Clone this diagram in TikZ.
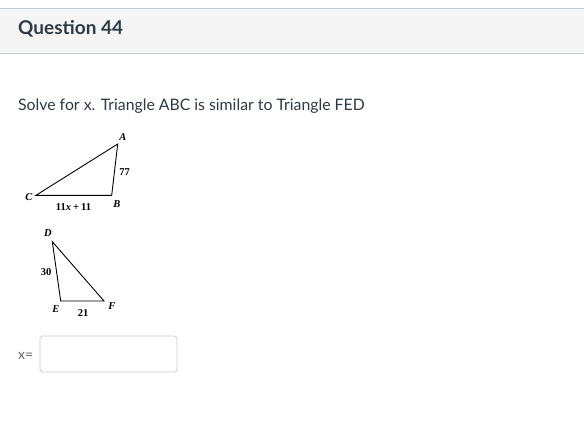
\documentclass[tikz,border=0pt]{standalone}
\usepackage{fontspec}
\setmainfont{Lato}
\newfontfamily\figfont{Liberation Serif}
\usepackage{xcolor}
\usetikzlibrary{positioning,calc}
\definecolor{headbg}{HTML}{F5F5F5}
\definecolor{headline}{HTML}{C7CDD1}
\definecolor{inktext}{HTML}{2D3B45}
\definecolor{boxline}{HTML}{C7CDD1}
\tikzset{
  vtx/.style={inner sep=0pt, font=\figfont\fontsize{10.5}{12}\selectfont\bfseries\itshape},
  side/.style={inner sep=0pt, font=\figfont\fontsize{10.5}{12}\selectfont\bfseries},
}
\begin{document}
\begin{tikzpicture}[x=1pt, y=-1pt]
\useasboundingbox[fill=white] (0,0) rectangle (584,436);
% header band
\fill[headbg] (0,8) rectangle (584,53);
\draw[headline] (0,8) -- (584,8);
\draw[headline] (0,53) -- (584,53);
\node[anchor=west, inner sep=0pt, text=inktext, font=\fontsize{19}{22}\selectfont\bfseries] (head) at (18,29) {Question 44};
\node[anchor=west, inner sep=0pt, text=inktext, font=\fontsize{15.8}{19}\selectfont] (ask) at (18,106) {Solve for x. Triangle ABC is similar to Triangle FED};
% triangle ABC
\coordinate (A) at (117.7,144);
\coordinate (B) at (111.7,195.3);
\coordinate (C) at (36,195.3);
\draw[line width=0.9pt, line join=miter] (A) -- (B) -- (C) -- cycle;
\node[vtx] (la) at (123,137) {A};
\node[vtx] (lb) at (117,204) {B};
\node[vtx] (lc) at (29,197) {C};
\node[side] (s77) at (124.5,172) {77};
\node[side] (sbc) at (73.5,207.5) {11\textit{x}\kern2pt+\kern2pt11};
% triangle DEF
\coordinate (D) at (52.3,241.7);
\coordinate (E) at (60.7,301);
\coordinate (F) at (104,301);
\draw[line width=0.9pt, line join=miter] (D) -- (E) -- (F) -- cycle;
\node[vtx] (ld) at (48,233) {D};
\node[vtx] (le) at (56,309) {E};
\node[vtx] (lf) at (112,306) {F};
\node[side] (s30) at (46,272) {30};
\node[side] (s21) at (83,313) {21};
% answer field
\node[anchor=west, inner sep=0pt, text=gray!80!black, font=\fontsize{14}{16}\selectfont] (xeq) at (18,356) {x=};
\draw[boxline, rounded corners=3pt, line width=0.8pt] (40,336) rectangle (177,372);
\end{tikzpicture}
\end{document}
